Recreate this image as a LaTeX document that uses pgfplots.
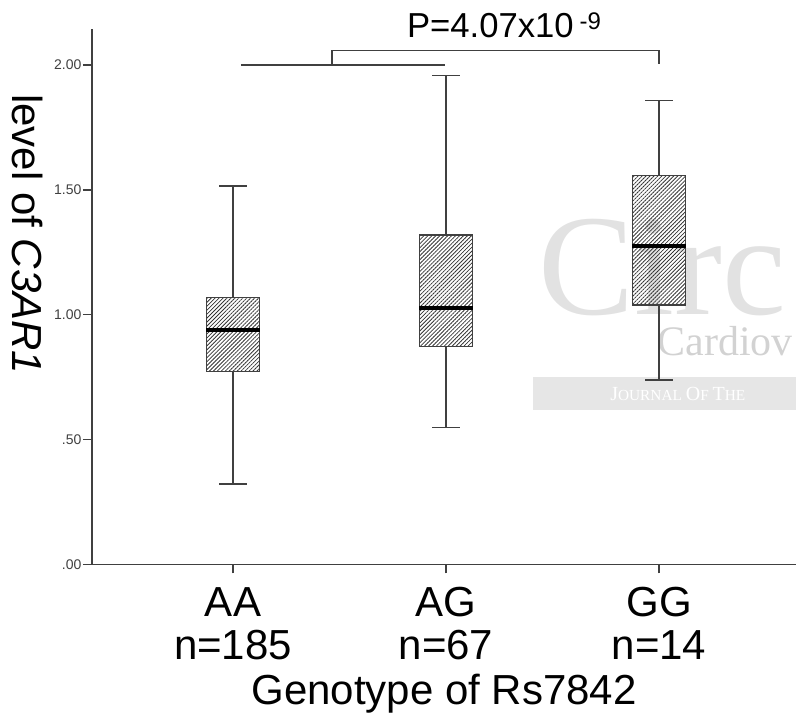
\documentclass[border=0pt]{standalone}
\usepackage{fontspec}
\setmainfont{Liberation Sans}
\newfontfamily\wmserif{Liberation Serif}
\usepackage{pgfplots}
\pgfplotsset{compat=1.18}
\usepgfplotslibrary{statistics}
\usetikzlibrary{patterns.meta}
\definecolor{axgray}{HTML}{404040}
\definecolor{wmlight}{HTML}{E2E2E2}
\definecolor{wmmid}{HTML}{D2D2D2}
\definecolor{wmband}{HTML}{E6E6E6}

\begin{document}
\begin{tikzpicture}
\path[use as bounding box] (-69pt,-122pt) rectangle (528pt,423.25pt);
\begin{axis}[at={(0,0)},anchor=south west,
  scale only axis,width=528pt,height=401.25pt,
  xmin=0.338,xmax=3.643,ymin=0,ymax=2.143,
  axis lines*=left,clip=false,
  axis line style={axgray,line width=1.1pt},
  tick align=outside,major tick length=6.75pt,
  tick style={axgray,line width=1pt},
  xtick={1,2,3},
  xticklabels={{AA\\n=185},{AG\\n=67},{GG\\n=14}},
  xticklabel style={font=\fontsize{31.5}{32.3}\selectfont,align=center,inner sep=0pt,yshift=-10.5pt},
  ytick={0,0.5,1,1.5,2},
  yticklabels={.00,.50,1.00,1.50,2.00},
  yticklabel style={font=\fontsize{10.5}{12}\selectfont,inner sep=1pt,text=axgray},
  xlabel={Genotype of Rs7842},
  xlabel style={font=\fontsize{31.5}{32.3}\selectfont,at={(axis description cs:0.5,0)},anchor=base,yshift=-105.5pt,inner sep=0pt},
  ylabel={level of \textit{C3AR1}},
  ylabel style={font=\fontsize{31.5}{32.3}\selectfont,at={(axis description cs:-0.0923,0.617)},anchor=center,rotate=180,inner sep=0pt},
  boxplot/draw direction=y,
  boxplot/every box/.style={draw=axgray,line width=1pt,
    pattern={Lines[angle=45,distance=2.1pt,line width=0.6pt]},pattern color=black!80},
  boxplot/every median/.style={draw=black,line width=2.6pt},
  boxplot/every whisker/.style={draw=axgray,line width=1.1pt},
  ]
  % watermark of the source journal, behind the boxes
  \fill[wmband] (axis cs:2.408,0.618) rectangle (axis cs:4.0,0.750);
  \node[anchor=base west,inner sep=0pt,text=wmlight,font=\wmserif\fontsize{108}{108}\selectfont]
    at (axis cs:2.432,0.999) {Circ};
  \node[anchor=base west,inner sep=0pt,text=wmmid,font=\wmserif\fontsize{31.5}{31.5}\selectfont]
    at (axis cs:2.991,0.838) {Cardiov};
  \node[anchor=base west,inner sep=0pt,text=white,font=\wmserif]
    at (axis cs:2.770,0.658) {\fontsize{15}{15}\selectfont J\fontsize{11.5}{12}\selectfont OURNAL \fontsize{15}{15}\selectfont O\fontsize{11.5}{12}\selectfont F \fontsize{15}{15}\selectfont T\fontsize{11.5}{12}\selectfont HE};

  % AA
  \addplot[boxplot prepared={draw position=1,
    lower whisker=0.321,lower quartile=0.772,median=0.938,
    upper quartile=1.070,upper whisker=1.516,
    box extend=0.25,whisker extend=0.13}] coordinates {};
  % AG
  \addplot[boxplot prepared={draw position=2,
    lower whisker=0.549,lower quartile=0.872,median=1.026,
    upper quartile=1.319,upper whisker=1.958,
    box extend=0.25,whisker extend=0.13}] coordinates {};
  % GG
  \addplot[boxplot prepared={draw position=3,
    lower whisker=0.738,lower quartile=1.039,median=1.275,
    upper quartile=1.558,upper whisker=1.857,
    box extend=0.25,whisker extend=0.13}] coordinates {};

  % significance bracket
  \draw[axgray,line width=0.9pt] (axis cs:1.037,2.0) -- (axis cs:1.995,2.0);
  \draw[axgray,line width=0.9pt] (axis cs:1.465,2.0) -- (axis cs:1.465,2.057)
    -- (axis cs:3.0,2.057) -- (axis cs:3.0,2.004);
  \node[anchor=base,inner sep=0pt,font=\fontsize{26}{26}\selectfont]
    at (axis cs:2.272,2.109) {P=4.07x10\,\raisebox{6pt}{\fontsize{18}{18}\selectfont -9}};
\end{axis}
\end{tikzpicture}
\end{document}
